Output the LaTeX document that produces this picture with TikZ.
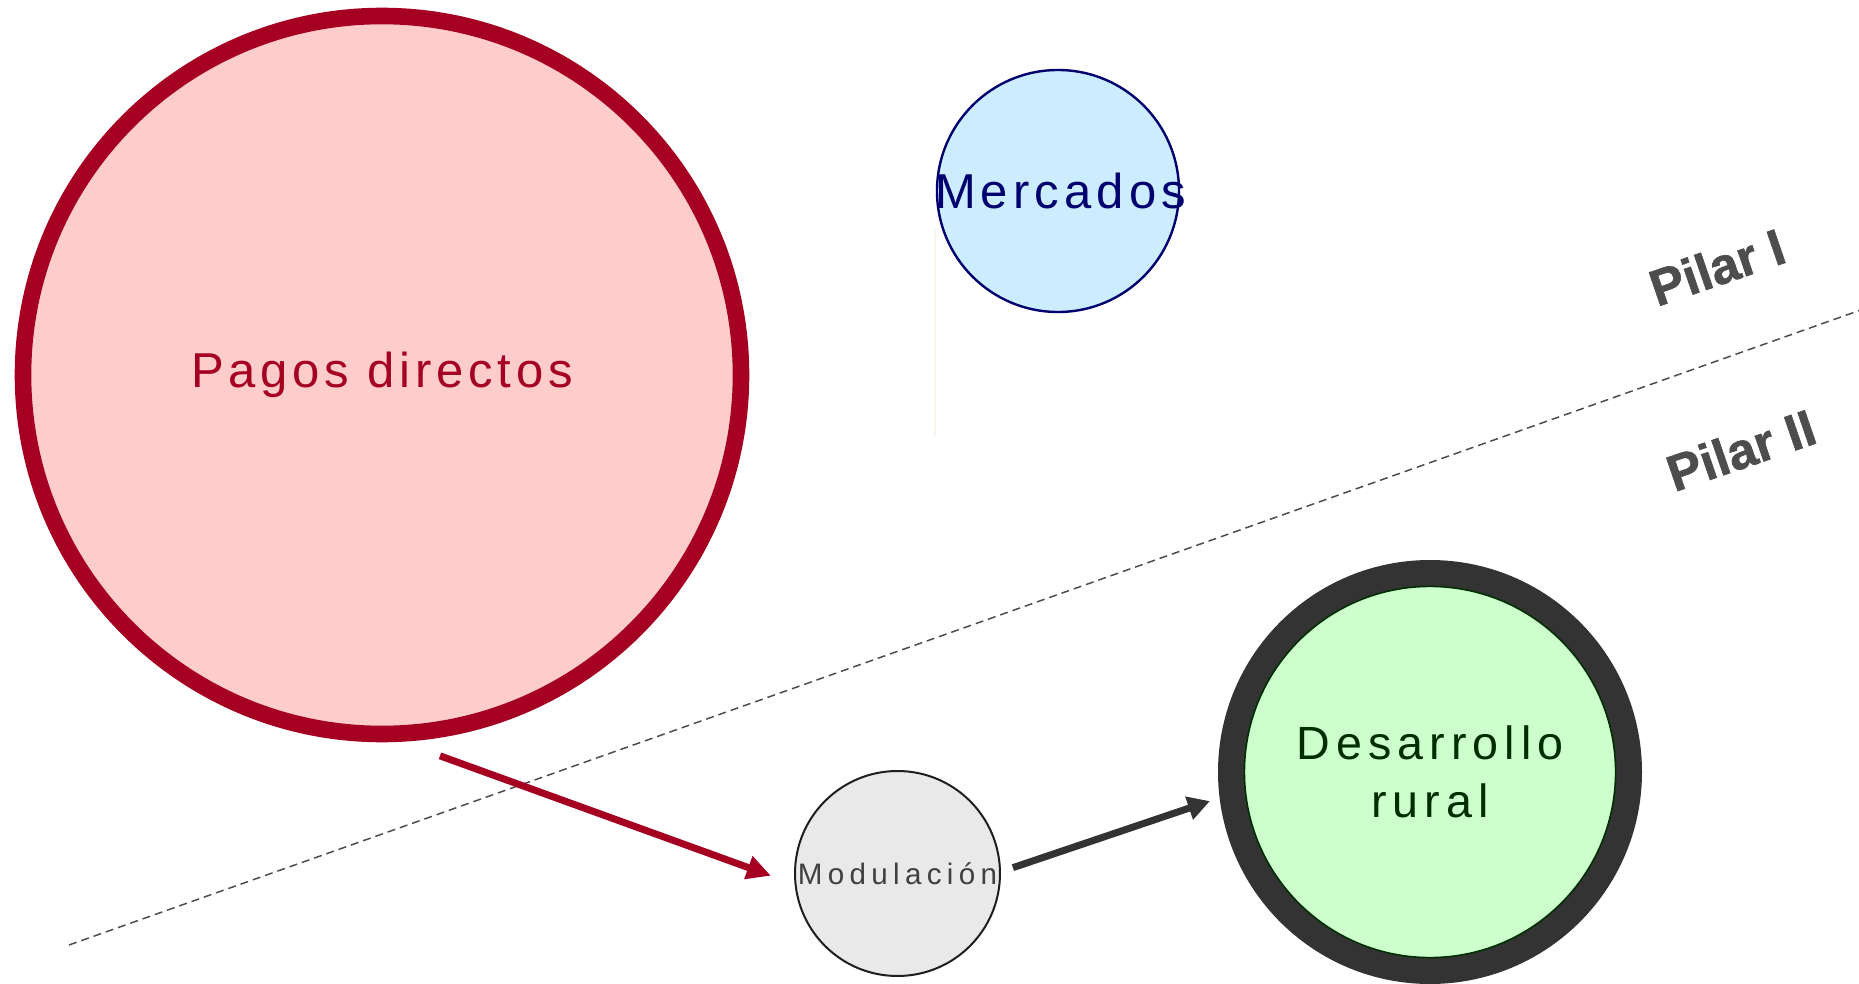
\documentclass[tikz,border=0pt]{standalone}
\usepackage{fontspec}
\setmainfont{Liberation Sans}
\usetikzlibrary{arrows.meta}

\definecolor{pagosrojo}{RGB}{165,0,33}
\definecolor{pagosfondo}{RGB}{255,204,204}
\definecolor{mercazul}{RGB}{0,0,110}
\definecolor{mercfondo}{RGB}{204,236,255}
\definecolor{modgris}{RGB}{64,64,64}
\definecolor{modfondo}{RGB}{233,233,233}
\definecolor{ruralverde}{RGB}{0,45,0}
\definecolor{ruralfondo}{RGB}{204,255,204}
\definecolor{oscuro}{RGB}{51,51,51}
\definecolor{pilargris}{RGB}{77,77,77}
\definecolor{rastro}{RGB}{250,244,238}

\begin{document}
\begin{tikzpicture}[x=0.5pt,y=-0.5pt,
  pagos/.style={circle,draw=pagosrojo,fill=pagosfondo,line width=8.3pt,minimum size=359pt,
    text=pagosrojo,font=\fontsize{24.5}{28}\selectfont\addfontfeatures{LetterSpace=9.8}},
  mercados/.style={circle,draw=mercazul,fill=mercfondo,line width=1.2pt,minimum size=121pt},
  mercadostexto/.style={text=mercazul,font=\fontsize{24.5}{28}\selectfont\addfontfeatures{LetterSpace=10.5}},
  modul/.style={circle,draw=black!88,fill=modfondo,line width=1pt,minimum size=102.5pt},
  modultexto/.style={text=modgris,font=\fontsize{14.8}{17}\selectfont\addfontfeatures{LetterSpace=18}},
  rural/.style={circle,draw=oscuro,fill=ruralfondo,line width=13pt,minimum size=199pt,
    text=ruralverde,align=center,font=\fontsize{23.3}{29}\selectfont\addfontfeatures{LetterSpace=13}},
  pilar/.style={text=pilargris,rotate=19,font=\fontsize{25.5}{28}\selectfont\bfseries\addfontfeatures{FakeBold=1.2}},
  divisoria/.style={pilargris,line width=0.75pt,dash pattern=on 4pt off 2.5pt},
  flecharoja/.style={pagosrojo,line width=3.5pt,-{Triangle[length=12pt,width=11.5pt]}},
  flechaoscura/.style={oscuro,line width=3.5pt,-{Triangle[length=11pt,width=11.5pt]}}
]
\useasboundingbox (0,0) rectangle (1859,984);

% 分界虚线
\coordinate (izq) at (69,945);
\coordinate (der) at (1859,310.6);
\draw[divisoria] (izq) -- (der);

% 浅色竖线
\draw[rastro,line width=1pt] (935,228) -- (935,437);

% 圆形节点
\node[pagos] (pagos) at (382,375) {Pagos directos};
\node[mercados,label={[mercadostexto,xshift=1.3pt]center:Mercados}] (merc) at (1058,191) {};
\node[modul,label={[modultexto]center:Modulación}] (modul) at (897.5,873.5) {};
\node[rural] (rural) at (1430,772) {Desarrollo\\rural};
\draw[ruralverde,line width=0.8pt] (rural.center) circle (92.8pt);

% 支柱标签
\node[pilar] (pilarI) at (1717,267) {Pilar I};
\node[pilar] (pilarII) at (1741,450) {Pilar II};

% 箭头
\draw[flecharoja,shorten <=20.6pt,shorten >=12.6pt] (pagos.-87.2) -- (modul.186.7);
\draw[flechaoscura,shorten <=6.3pt,shorten >=5.1pt] (modul.1.4) -- (rural.187.3);
\end{tikzpicture}
\end{document}
